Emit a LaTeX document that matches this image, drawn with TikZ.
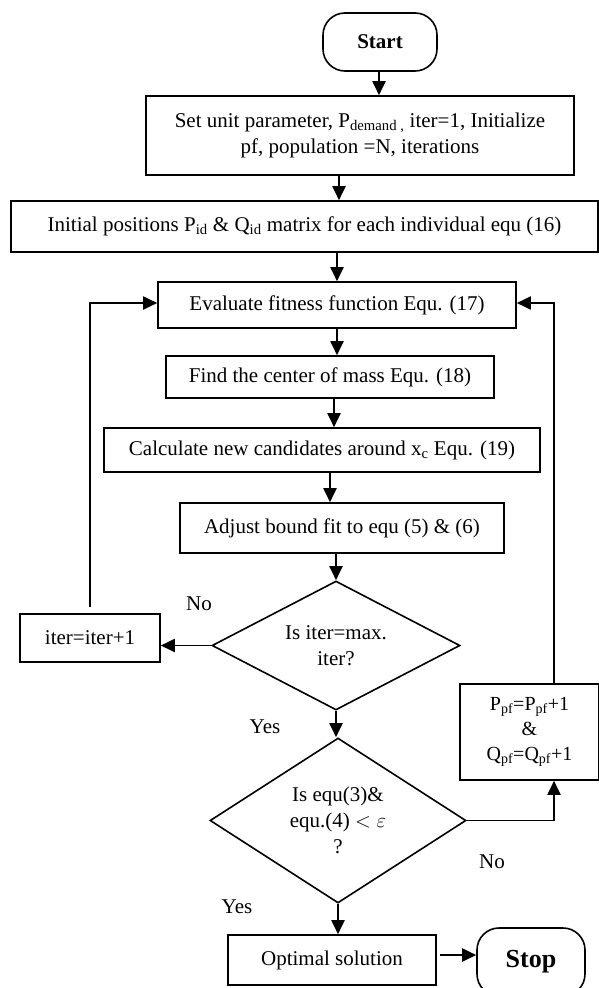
\documentclass[tikz,border=0pt]{standalone}
\usepackage{fontspec}
\setmainfont{Liberation Serif}
\usetikzlibrary{shapes.geometric,arrows.meta}
\begin{document}
\begin{tikzpicture}[x=1pt,y=-1pt,
 every node/.style={font=\fontsize{21}{26}\selectfont, inner sep=0pt},
 box/.style={draw, line width=1.6pt, align=center},
 term/.style={draw, line width=1.6pt, rounded corners=22pt, font=\fontsize{21}{25}\selectfont\bfseries},
 dec/.style={draw, diamond, aspect=2, line width=1.6pt, align=center},
 arr/.style={-{Triangle[length=14pt,width=13pt]}, line width=1.9pt},
 lab/.style={font=\fontsize{21}{25}\selectfont}]
\useasboundingbox (0,0) rectangle (598,988);
\node[term, minimum width=114pt, minimum height=58pt] (start) at (380,42) {Start};
\node[box, minimum width=428pt, minimum height=79pt] (b1) at (360,135.5) {Set unit parameter, P\textsubscript{demand ,} iter=1, Initialize\\pf, population =N, iterations};
\node[box, minimum width=587pt, minimum height=51pt] (b2) at (304.5,226.5) {Initial positions P\textsubscript{id} \& Q\textsubscript{id} matrix for each individual equ (16)};
\node[box, minimum width=358pt, minimum height=46pt] (b3) at (337,305) {Evaluate fitness function Equ. (17)};
\node[box, minimum width=328pt, minimum height=42pt] (b4) at (330,377) {Find the center of mass Equ. (18)};
\node[box, minimum width=436pt, minimum height=44pt] (b5) at (322,450) {Calculate new candidates around x\textsubscript{c} Equ. (19)};
\node[box, minimum width=324pt, minimum height=50pt] (b6) at (342,528) {Adjust bound fit to equ (5) \& (6)};
\node[dec, minimum width=248pt, minimum height=129pt] (d1) at (336,645.5) {Is iter=max.\\iter?};
\node[box, minimum width=140pt, minimum height=48pt] (it) at (90,638) {iter=iter+1};
\node[dec, minimum width=256pt, minimum height=165pt] (d2) at (338,820.5) {Is equ(3)\&\\equ.(4) $<\varepsilon$\\?};
\node[box, minimum width=139pt, minimum height=96pt, font=\fontsize{20}{25}\selectfont] (pp) at (529.5,732) {P\textsubscript{pf}=P\textsubscript{pf}+1\\\&\\Q\textsubscript{pf}=Q\textsubscript{pf}+1};
\node[box, minimum width=208pt, minimum height=50pt] (opt) at (332,960) {Optimal solution};
\node[term, minimum width=108pt, minimum height=68pt, font=\fontsize{26}{30}\selectfont\bfseries] (stop) at (531,962) {Stop};
\coordinate (rx) at (554,0);
\node[lab] (no1) at (199,604) {No};
\node[lab] (yes1) at (265,727) {Yes};
\node[lab] (no2) at (492,862) {No};
\node[lab] (yes2) at (237,907) {Yes};
\draw[arr] ([xshift=-1pt]start.south) -- ([xshift=-1pt]start.south |- b1.north);
\draw[arr] ([xshift=-21pt]b1.south) -- ([xshift=-21pt]b1.south |- b2.north);
\draw[arr] (b3.north |- b2.south) -- (b3.north);
\draw[arr] (b3.south) -- (b3.south |- b4.north);
\draw[arr] ([xshift=4pt]b4.south) -- ([xshift=4pt]b4.south |- b5.north);
\draw[arr] ([xshift=8pt]b5.south) -- ([xshift=8pt]b5.south |- b6.north);
\draw[arr] (b6.south -| d1.north) -- (d1.north);
\draw[arr] (d1.south) -- (d1.south |- d2.north);
\draw[arr] (d2.south) -- (d2.south |- opt.north);
\draw[arr] (d1.west) -- (d1.west -| it.east);
\draw[arr] ([yshift=6pt]it.north) -- ([yshift=2pt]it.north |- b3.west) -- ([yshift=2pt]b3.west);
\draw[arr] (d2.east) -- (d2.east -| rx) -- (rx |- pp.south);
\draw[arr] (rx |- pp.north) -- ([yshift=2pt]rx |- b3.east) -- ([yshift=2pt]b3.east);
\draw[arr] ([xshift=3pt,yshift=5pt]opt.east) -- ([yshift=5pt]opt.east -| stop.west);
\end{tikzpicture}
\end{document}
